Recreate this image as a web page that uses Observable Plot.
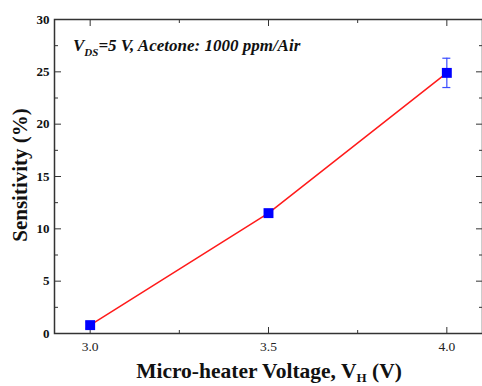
<!DOCTYPE html>
<html><head><meta charset="utf-8">
<script src="https://cdn.jsdelivr.net/npm/d3@7"></script>
<script src="https://cdn.jsdelivr.net/npm/@observablehq/plot@0.6"></script>
<style>body{margin:0;background:#fff} svg{display:block}</style>
</head><body><div id="chart"></div>
<script>
const voltage = [3.0, 3.5, 4.0];
const sensitivity = [0.8, 11.5, 24.9];
const errorBar = [0.3, 0.3, 1.4];
const xTicks = [3.0, 3.5, 4.0];
const xMinor = [3.25, 3.75];
const yTicks = [0, 5, 10, 15, 20, 25, 30];
const yMinor = [2.5, 7.5, 12.5, 17.5, 22.5, 27.5];
const xLabelParts = ["Micro-heater Voltage, V", "H", " (V)"];
const yLabel = "Sensitivity (%)";
const titleParts = ["V", "DS", "=5 V, Acetone: 1000 ppm/Air"];

const data = voltage.map((v, i) => ({x: v, y: sensitivity[i], e: errorBar[i]}));
const font = "Liberation Serif";
const axisColor = "#333";

const plot = Plot.plot({
  width: 482, height: 386,
  marginLeft: 54, marginRight: 0, marginTop: 19, marginBottom: 53,
  x: {domain: [2.9, 4.1], axis: null},
  y: {domain: [0, 30], axis: null},
  style: {fontFamily: font, background: "white", color: "#111"},
  marks: [
    Plot.frame({stroke: axisColor, strokeWidth: 1.5}),
    // inward ticks
    Plot.axisX(xTicks, {anchor: "bottom", tickSize: -6, tickFormat: () => "", label: null, stroke: axisColor}),
    Plot.axisX(xMinor, {anchor: "bottom", tickSize: -3, tickFormat: () => "", label: null, stroke: axisColor}),
    Plot.axisX(xTicks, {anchor: "top", tickSize: -6, tickFormat: () => "", label: null, stroke: axisColor}),
    Plot.axisX(xMinor, {anchor: "top", tickSize: -3, tickFormat: () => "", label: null, stroke: axisColor}),
    Plot.axisY(yTicks, {anchor: "left", tickSize: -7, tickFormat: () => "", label: null, stroke: axisColor}),
    Plot.axisY(yMinor, {anchor: "left", tickSize: -4, tickFormat: () => "", label: null, stroke: axisColor}),
    Plot.axisY(yTicks, {anchor: "right", tickSize: -7, tickFormat: () => "", label: null, stroke: axisColor}),
    Plot.axisY(yMinor, {anchor: "right", tickSize: -4, tickFormat: () => "", label: null, stroke: axisColor}),
    // tick labels
    Plot.text(xTicks, {x: d => d, frameAnchor: "bottom", lineAnchor: "top", dy: 8, text: d3.format(".1f"), fontSize: 13.5, fontFamily: font, fill: "#222"}),
    Plot.text(yTicks, {y: d => d, frameAnchor: "left", textAnchor: "end", dx: -5, text: d3.format("d"), fontSize: 13, fontFamily: font, fontWeight: "bold", fill: "#111"}),
    // data
    Plot.line(data, {x: "x", y: "y", stroke: "#ff1a1a", strokeWidth: 1.5}),
    Plot.ruleX(data, {x: "x", y1: d => d.y - d.e, y2: d => d.y + d.e, stroke: "#3a4cff", strokeWidth: 1.2}),
    Plot.ruleY(data, {y: d => d.y - d.e, x1: "x", x2: "x", insetLeft: -4, insetRight: -4, stroke: "#3a4cff", strokeWidth: 1.2}),
    Plot.ruleY(data, {y: d => d.y + d.e, x1: "x", x2: "x", insetLeft: -4, insetRight: -4, stroke: "#3a4cff", strokeWidth: 1.2}),
    Plot.dot(data, {x: "x", y: "y", symbol: "square", r: 5.6, fill: "#0000ff", stroke: "none"})
  ]
});
document.getElementById("chart").append(plot);

const svg = d3.select(plot);

// title with subscript
const t = svg.append("text").attr("x", 73).attr("y", 51).attr("text-anchor", "start")
  .attr("font-family", font).attr("font-size", 17).attr("font-weight", "bold").attr("font-style", "italic").attr("fill", "#111");
t.append("tspan").text(titleParts[0]);
t.append("tspan").attr("dy", 5).attr("font-size", 11).text(titleParts[1]);
t.append("tspan").attr("dy", -5).text(titleParts[2]);

// x label
const xl = svg.append("text").attr("x", 269).attr("y", 378).attr("text-anchor", "middle")
  .attr("font-family", font).attr("font-size", 21.5).attr("font-weight", "bold").attr("fill", "#111");
xl.append("tspan").text(xLabelParts[0]);
xl.append("tspan").attr("dy", 4).attr("font-size", 13).text(xLabelParts[1]);
xl.append("tspan").attr("dy", -4).text(xLabelParts[2]);

// y label
svg.append("text").attr("transform", "translate(27,175) rotate(-90)").attr("text-anchor", "middle")
  .attr("font-family", font).attr("font-size", 21).attr("font-weight", "bold").attr("fill", "#111")
  .text(yLabel);
</script>
</body></html>
